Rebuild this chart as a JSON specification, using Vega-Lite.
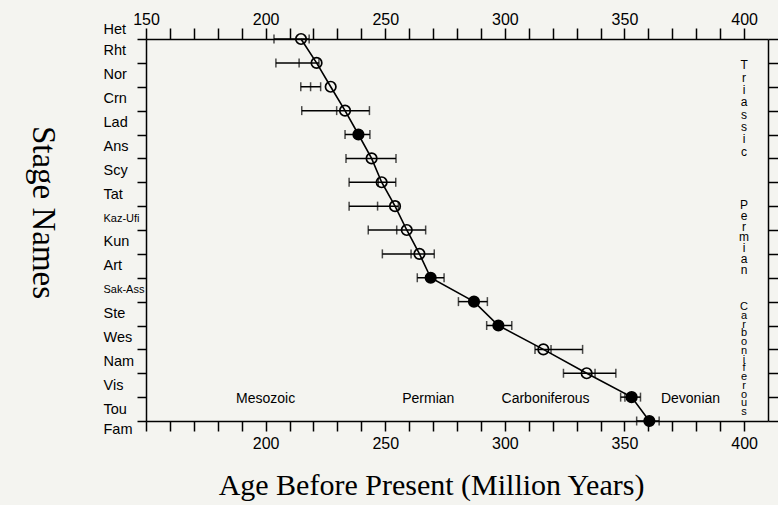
{
  "$schema": "https://vega.github.io/schema/vega-lite/v6.json",
  "width": 622,
  "height": 382,
  "autosize": {"type": "none"},
  "padding": {"left": 146, "top": 39, "right": 10, "bottom": 84},
  "background": "#f4f4f0",
  "config": {
    "view": {"stroke": null},
    "axis": {
      "grid": false,
      "domainColor": "black",
      "tickColor": "black",
      "labelColor": "black",
      "titleColor": "black",
      "domainWidth": 1.5,
      "tickWidth": 1.5,
      "labelFont": "Liberation Sans",
      "titleFont": "Liberation Serif",
      "titleFontWeight": "normal",
      "labelFlush": false,
      "labelOverlap": false,
      "labelBound": false
    }
  },
  "datasets": {
    "ages": [
      {"pos": 0, "age": 214.8, "lo": 203.5, "hi": 218.2, "mid": null, "kind": "open"},
      {"pos": 1, "age": 221.3, "lo": 204.3, "hi": 222.3, "mid": 214.0, "kind": "open"},
      {"pos": 2, "age": 227.2, "lo": 214.7, "hi": 223.0, "mid": 218.8, "kind": "open"},
      {"pos": 3, "age": 233.2, "lo": 215.1, "hi": 243.4, "mid": 229.7, "kind": "open"},
      {"pos": 4, "age": 238.8, "lo": 233.2, "hi": 243.6, "mid": null, "kind": "filled"},
      {"pos": 5, "age": 244.3, "lo": 233.6, "hi": 254.5, "mid": null, "kind": "open"},
      {"pos": 6, "age": 248.5, "lo": 234.9, "hi": 254.4, "mid": 247.1, "kind": "open"},
      {"pos": 7, "age": 254.1, "lo": 234.9, "hi": 255.5, "mid": 246.8, "kind": "open"},
      {"pos": 8, "age": 259.0, "lo": 242.9, "hi": 266.9, "mid": 254.8, "kind": "open"},
      {"pos": 9, "age": 264.3, "lo": 248.8, "hi": 270.5, "mid": 260.8, "kind": "open"},
      {"pos": 10, "age": 269.0, "lo": 263.4, "hi": 274.6, "mid": null, "kind": "filled"},
      {"pos": 11, "age": 287.1, "lo": 280.6, "hi": 292.7, "mid": null, "kind": "filled"},
      {"pos": 12, "age": 297.3, "lo": 292.4, "hi": 302.9, "mid": null, "kind": "filled"},
      {"pos": 13, "age": 316.1, "lo": 312.6, "hi": 332.5, "mid": 319.3, "kind": "open"},
      {"pos": 14, "age": 334.2, "lo": 324.5, "hi": 346.4, "mid": 337.7, "kind": "open"},
      {"pos": 15, "age": 353.0, "lo": 348.4, "hi": 356.7, "mid": 350.2, "kind": "filled"},
      {"pos": 16, "age": 360.4, "lo": 355.1, "hi": 364.5, "mid": null, "kind": "filled"}
    ],
    "eras": [
      {"name": "Mesozoic", "age": 200, "pos": 15.07},
      {"name": "Permian", "age": 268, "pos": 15.07},
      {"name": "Carboniferous", "age": 317, "pos": 15.07},
      {"name": "Devonian", "age": 377.6, "pos": 15.07}
    ],
    "columns": [
      {"name": "T\nr\ni\na\ns\ns\ni\nc", "group": "Triassic", "age": 400, "pos": 0.9},
      {"name": "P\ne\nr\nm\ni\na\nn", "group": "Permian", "age": 400, "pos": 6.76},
      {"name": "C\na\nr\nb\no\nn\ni\nf\ne\nr\no\nu\ns", "group": "Carboniferous", "age": 400, "pos": 10.98}
    ]
  },
  "resolve": {"axis": {"x": "independent", "y": "independent"}},
  "layer": [
    {
      "data": {"name": "ages"},
      "mark": {"type": "rule", "color": "black", "strokeWidth": 1.5},
      "encoding": {
        "x": {
          "field": "lo", "type": "quantitative",
          "scale": {"domain": [150, 410], "nice": false, "zero": false},
          "axis": {
            "orient": "bottom",
            "values": [150,160,170,180,190,200,210,220,230,240,250,260,270,280,290,300,310,320,330,340,350,360,370,380,390,400],
            "labelExpr": "datum.value % 50 == 0 && datum.value > 150 ? datum.value : ''",
            "tickSize": 10,
            "labelPadding": 4,
            "labelFontSize": 16,
            "title": "Age Before Present (Million Years)",
            "titleFontSize": 30,
            "titleX": 285,
            "titleY": 73,
            "titleAlign": "center",
            "titleBaseline": "alphabetic"
          }
        },
        "x2": {"field": "hi"},
        "y": {
          "field": "pos", "type": "quantitative",
          "scale": {"domain": [0, 16], "reverse": true, "nice": false, "zero": false},
          "axis": {
            "orient": "left",
            "values": [0,0.5,1,1.5,2,2.5,3,3.5,4,4.5,5,5.5,6,6.5,7,7.5,8,8.5,9,9.5,10,10.5,11,11.5,12,12.5,13,13.5,14,14.5,15,15.5,16],
            "labelExpr": "datum.value == 0 ? 'Het' : datum.value == 16 ? 'Fam' : datum.value % 1 == 0 ? '' : ['Het','Rht','Nor','Crn','Lad','Ans','Scy','Tat','Kaz-Ufi','Kun','Art','Sak-Ass','Ste','Wes','Nam','Vis','Tou','Fam'][datum.value + 0.5]",
            "tickSize": 9,
            "tickOpacity": {"condition": {"test": "datum.value % 1 != 0", "value": 0}, "value": 1},
            "labelAlign": "left",
            "labelPadding": 34,
            "labelFontSize": {"condition": {"test": "datum.value == 7.5 || datum.value == 10.5", "value": 11}, "value": 14.5},
            "labelOffset": {"condition": [{"test": "datum.value == 0", "value": -10}, {"test": "datum.value == 16", "value": 8}], "value": 0},
            "title": "Stage Names",
            "titleFontSize": 33,
            "titleAngle": 90,
            "titleX": -114,
            "titleY": 173,
            "titleAlign": "center",
            "titleBaseline": "alphabetic"
          }
        }
      }
    },
    {
      "data": {"name": "ages"},
      "mark": {"type": "line", "color": "black", "strokeWidth": 1.6},
      "encoding": {
        "x": {
          "field": "age", "type": "quantitative",
          "scale": {"domain": [150, 410], "nice": false, "zero": false},
          "axis": {
            "orient": "top",
            "values": [150,160,170,180,190,200,210,220,230,240,250,260,270,280,290,300,310,320,330,340,350,360,370,380,390,400],
            "labelExpr": "datum.value % 50 == 0 ? datum.value : ''",
            "tickSize": 11,
            "labelPadding": 1,
            "labelFontSize": 16,
            "title": null
          }
        },
        "y": {
          "field": "pos", "type": "quantitative",
          "scale": {"domain": [0, 16], "reverse": true, "nice": false, "zero": false},
          "axis": {
            "orient": "right",
            "values": [0,1,2,3,4,5,6,7,8,9,10,11,12,13,14,15,16],
            "labels": false,
            "tickSize": 11,
            "title": null
          }
        },
        "order": {"field": "pos", "type": "quantitative"}
      }
    },
    {
      "data": {"name": "ages"},
      "mark": {"type": "tick", "orient": "vertical", "color": "black", "size": 9, "thickness": 1.5},
      "encoding": {
        "x": {"field": "lo", "type": "quantitative", "axis": null},
        "y": {"field": "pos", "type": "quantitative", "axis": null}
      }
    },
    {
      "data": {"name": "ages"},
      "mark": {"type": "tick", "orient": "vertical", "color": "black", "size": 9, "thickness": 1.5},
      "encoding": {
        "x": {"field": "hi", "type": "quantitative", "axis": null},
        "y": {"field": "pos", "type": "quantitative", "axis": null}
      }
    },
    {
      "data": {"name": "ages"},
      "transform": [{"filter": "isValid(datum.mid)"}],
      "mark": {"type": "tick", "orient": "vertical", "color": "black", "size": 9, "thickness": 1.5},
      "encoding": {
        "x": {"field": "mid", "type": "quantitative", "axis": null},
        "y": {"field": "pos", "type": "quantitative", "axis": null}
      }
    },
    {
      "data": {"name": "ages"},
      "mark": {"type": "point", "shape": "circle", "size": 110, "strokeWidth": 1.7, "stroke": "black", "opacity": 1},
      "encoding": {
        "x": {"field": "age", "type": "quantitative", "axis": null},
        "y": {"field": "pos", "type": "quantitative", "axis": null},
        "fill": {"field": "kind", "type": "nominal", "scale": {"domain": ["open", "filled"], "range": ["transparent", "black"]}, "legend": null}
      }
    },
    {
      "data": {"name": "eras"},
      "mark": {"type": "text", "font": "Liberation Sans", "fontSize": 14, "color": "black", "align": "center", "baseline": "middle"},
      "encoding": {
        "x": {"field": "age", "type": "quantitative", "axis": null},
        "y": {"field": "pos", "type": "quantitative", "axis": null},
        "text": {"field": "name"}
      }
    },
    {
      "data": {"name": "columns"},
      "transform": [{"filter": "datum.group == 'Triassic'"}],
      "mark": {"type": "text", "font": "Liberation Sans", "fontSize": 12, "color": "black", "align": "center", "baseline": "top", "lineBreak": "\n", "lineHeight": 12.3},
      "encoding": {
        "x": {"field": "age", "type": "quantitative", "axis": null},
        "y": {"field": "pos", "type": "quantitative", "axis": null},
        "text": {"field": "name"}
      }
    },
    {
      "data": {"name": "columns"},
      "transform": [{"filter": "datum.group == 'Permian'"}],
      "mark": {"type": "text", "font": "Liberation Sans", "fontSize": 12, "color": "black", "align": "center", "baseline": "top", "lineBreak": "\n", "lineHeight": 10.7},
      "encoding": {
        "x": {"field": "age", "type": "quantitative", "axis": null},
        "y": {"field": "pos", "type": "quantitative", "axis": null},
        "text": {"field": "name"}
      }
    },
    {
      "data": {"name": "columns"},
      "transform": [{"filter": "datum.group == 'Carboniferous'"}],
      "mark": {"type": "text", "font": "Liberation Sans", "fontSize": 11, "color": "black", "align": "center", "baseline": "top", "lineBreak": "\n", "lineHeight": 8.75},
      "encoding": {
        "x": {"field": "age", "type": "quantitative", "axis": null},
        "y": {"field": "pos", "type": "quantitative", "axis": null},
        "text": {"field": "name"}
      }
    }
  ]
}
